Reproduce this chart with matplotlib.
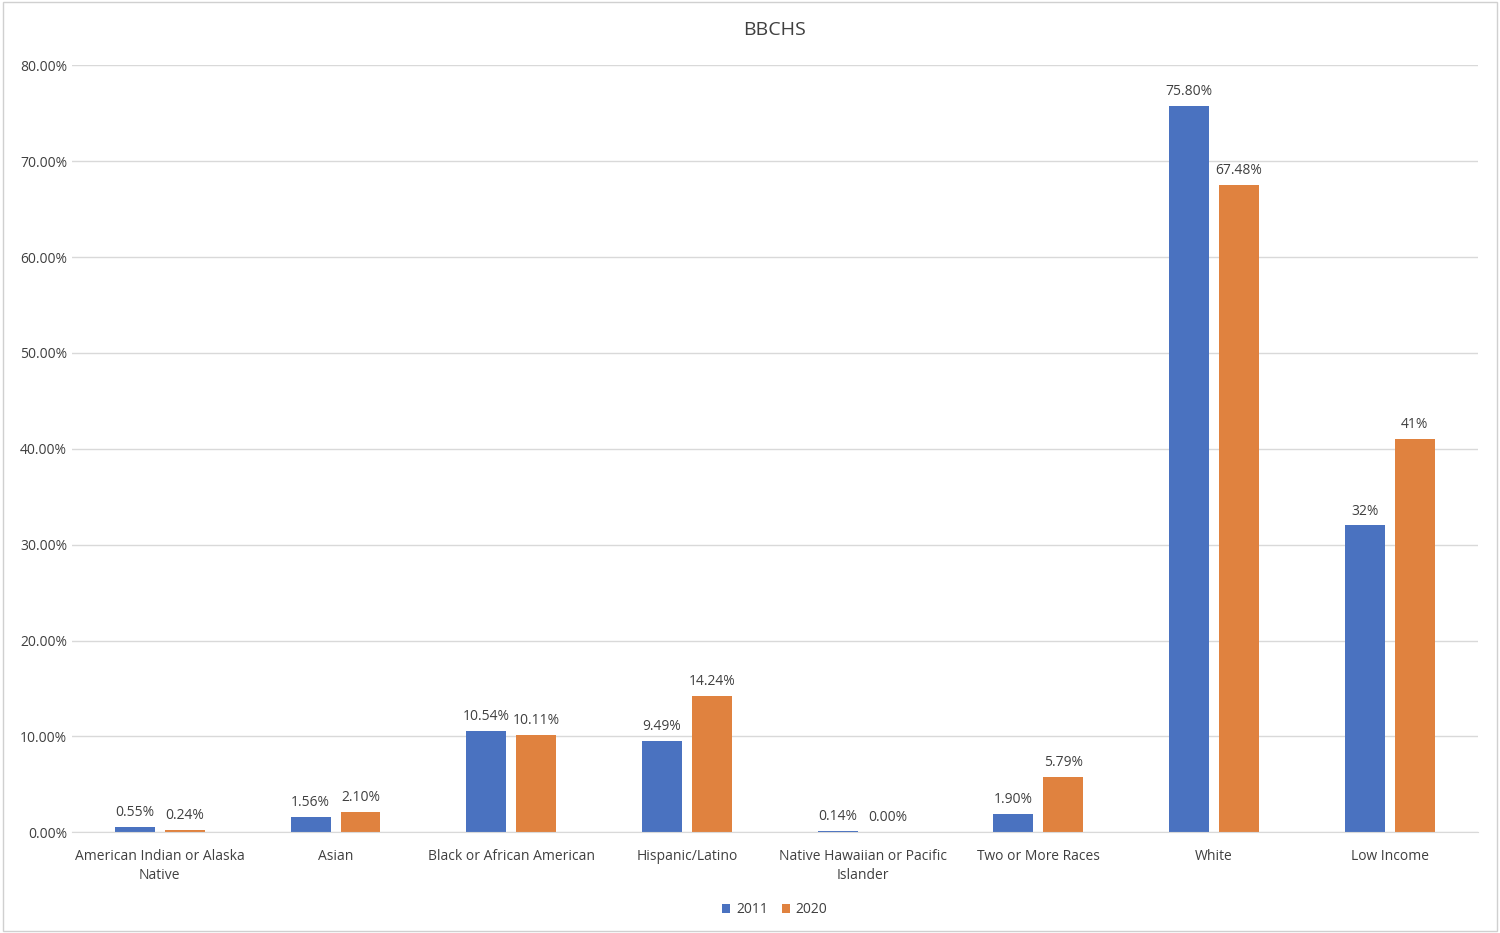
import matplotlib

matplotlib.use("Agg")

import matplotlib.pyplot as plt
import numpy as np
from matplotlib.ticker import FuncFormatter

categories = [
    "American Indian or Alaska\nNative",
    "Asian",
    "Black or African American",
    "Hispanic/Latino",
    "Native Hawaiian or Pacific\nIslander",
    "Two or More Races",
    "White",
    "Low Income",
]
values_2011 = [0.55, 1.56, 10.54, 9.49, 0.14, 1.90, 75.80, 32.0]
values_2020 = [0.24, 2.10, 10.11, 14.24, 0.00, 5.79, 67.48, 41.0]
labels_2011 = ["0.55%", "1.56%", "10.54%", "9.49%", "0.14%", "1.90%", "75.80%", "32%"]
labels_2020 = ["0.24%", "2.10%", "10.11%", "14.24%", "0.00%", "5.79%", "67.48%", "41%"]

BLUE = "#4a72c0"
ORANGE = "#e0823f"
TEXT = "#404040"

plt.rcParams["font.family"] = "Open Sans"

fig = plt.figure(figsize=(15, 9.33), dpi=100)
fig.patches.append(plt.Rectangle((0.002, 0.002), 0.996, 0.996, transform=fig.transFigure,
                                 fill=False, edgecolor="#d0d0d0", linewidth=1))
ax = fig.add_axes([0.048, 0.108, 0.937, 0.822])

x = np.arange(len(categories))
width = 0.227
offset = 0.142
b1 = ax.bar(x - offset, values_2011, width, color=BLUE, label="2011")
b2 = ax.bar(x + offset, values_2020, width, color=ORANGE, label="2020")

for bars, labels in ((b1, labels_2011), (b2, labels_2020)):
    for bar, lab in zip(bars, labels):
        ax.annotate(lab, (bar.get_x() + bar.get_width() / 2, bar.get_height()),
                    xytext=(0, 5), textcoords="offset points", ha="center", va="bottom",
                    fontsize=10, color=TEXT)

ax.set_ylim(0, 80)
ax.set_xlim(-0.5, len(categories) - 0.5)
ax.set_yticks(np.arange(0, 81, 10))
ax.yaxis.set_major_formatter(FuncFormatter(lambda v, _: f"{v:.2f}%"))
ax.grid(axis="y", color="#d9d9d9", linewidth=1)
ax.set_axisbelow(True)
for side in ("top", "right", "left"):
    ax.spines[side].set_visible(False)
ax.spines["bottom"].set_color("#d9d9d9")
ax.tick_params(axis="both", length=0, colors=TEXT, labelsize=10)
ax.tick_params(axis="x", pad=12)
ax.set_xticks(x)
ax.set_xticklabels(categories, linespacing=1.4)
ax.set_title("BBCHS", fontsize=14, color=TEXT, pad=22)

ax.legend(loc="upper center", bbox_to_anchor=(0.5, -0.075), ncol=2, frameon=False,
          fontsize=10, handlelength=0.6, handleheight=0.6, columnspacing=1.0,
          handletextpad=0.4, labelcolor=TEXT)

fig.savefig("out.png", dpi=100)
